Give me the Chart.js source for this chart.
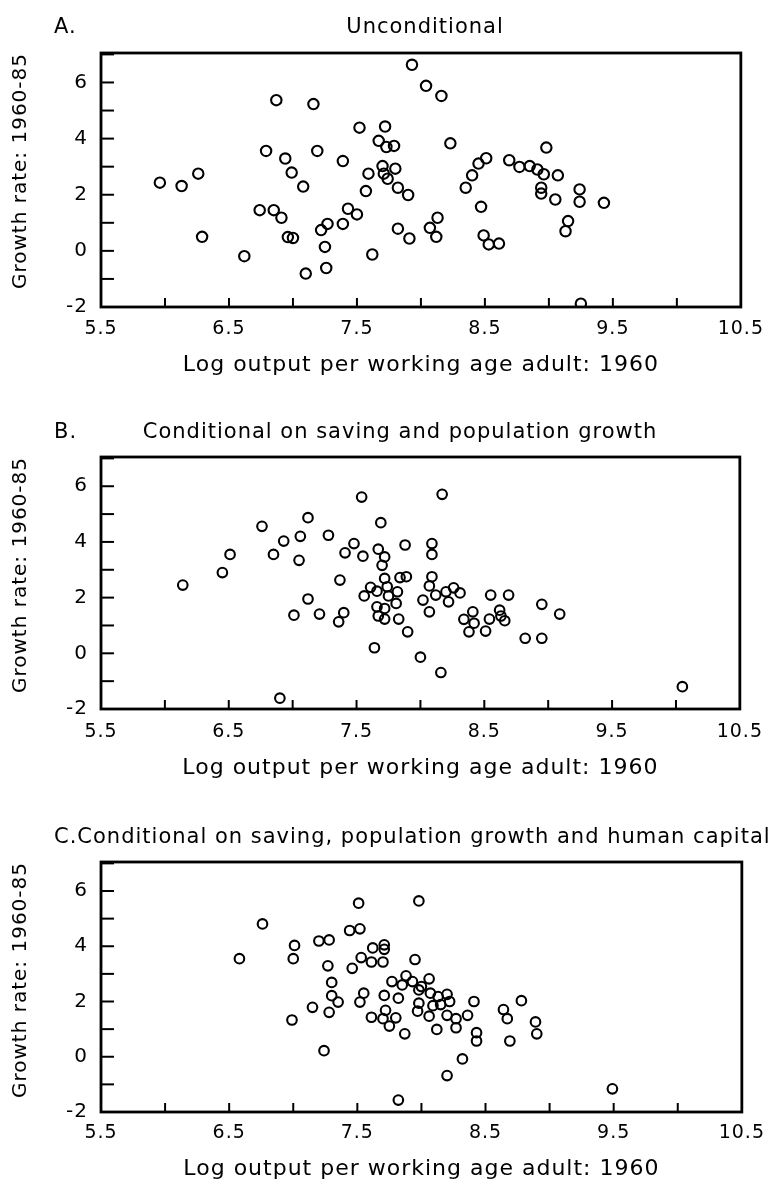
<!DOCTYPE html>
<html>
<head>
<meta charset="utf-8">
<script src="https://cdn.jsdelivr.net/npm/chart.js@4.4.1/dist/chart.umd.min.js"></script>
<style>
  body { margin: 0; background: #fff; width: 773px; height: 1185px; position: relative; overflow: hidden; }
  canvas { position: absolute; left: 0; }
</style>
</head>
<body>
<canvas id="chart-a" width="773" height="395" style="top:0px"></canvas>
<canvas id="chart-b" width="773" height="405" style="top:395px"></canvas>
<canvas id="chart-c" width="773" height="385" style="top:800px"></canvas>
<script>
// Growth vs initial income, three panels (unconditional / conditional)

// Panel A: unconditional
const logOutputA = [
  7.93, 8.04, 8.16, 6.87, 7.16, 7.52, 7.72, 7.67, 7.73, 7.79,
  6.79, 7.19, 6.94, 7.39, 6.26, 5.96, 6.13, 6.99, 7.08, 7.59,
  7.57, 7.70, 7.71, 7.80, 7.74, 7.82, 7.90, 6.74, 6.85, 6.91,
  7.43, 7.50, 7.39, 7.27, 7.22, 6.29, 6.96, 7.00, 7.82, 7.91,
  7.25, 6.62, 7.62, 7.26, 7.10, 8.23, 8.98, 8.51, 8.45, 8.40,
  8.35, 8.69, 8.77, 8.85, 8.91, 8.96, 9.07, 8.94, 8.94, 9.05,
  9.24, 9.24, 9.43, 8.47, 8.13, 8.07, 8.12, 8.49, 8.53, 8.61,
  9.15, 9.13, 9.25
];
const growthA = [
  6.63, 5.88, 5.52, 5.37, 5.23, 4.39, 4.43, 3.92, 3.70, 3.74,
  3.56, 3.56, 3.29, 3.20, 2.75, 2.43, 2.31, 2.79, 2.29, 2.75,
  2.13, 3.02, 2.75, 2.93, 2.57, 2.25, 1.99, 1.45, 1.45, 1.18,
  1.50, 1.30, 0.96, 0.96, 0.74, 0.50, 0.49, 0.46, 0.79, 0.44,
  0.14, -0.19, -0.13, -0.61, -0.81, 3.83, 3.68, 3.30, 3.11, 2.69,
  2.25, 3.23, 2.99, 3.02, 2.90, 2.73, 2.69, 2.25, 2.04, 1.83,
  2.19, 1.75, 1.71, 1.57, 1.18, 0.82, 0.50, 0.55, 0.23, 0.26,
  1.06, 0.70, -1.88
];

// Panel B: conditional on saving and population growth
const logOutputB = [
  7.54, 7.12, 7.69, 6.76, 7.28, 6.93, 7.06, 7.48, 7.88, 6.51,
  6.85, 7.41, 7.55, 7.67, 7.72, 7.70, 7.05, 6.45, 6.14, 7.37,
  7.72, 7.84, 7.89, 7.61, 7.74, 7.56, 7.66, 7.75, 7.82, 7.81,
  7.66, 7.72, 7.67, 7.72, 7.83, 7.12, 7.01, 7.21, 7.40, 7.36,
  7.90, 7.64, 8.00, 8.17, 8.09, 8.09, 8.09, 8.07, 8.02, 8.12,
  8.20, 8.26, 8.31, 8.22, 8.07, 8.55, 8.69, 8.95, 9.09, 8.34,
  8.41, 8.42, 8.38, 8.51, 8.54, 8.62, 8.63, 8.66, 8.82, 8.95,
  8.16, 6.90, 10.05
];
const growthB = [
  5.61, 4.87, 4.69, 4.56, 4.24, 4.03, 4.20, 3.94, 3.89, 3.55,
  3.55, 3.61, 3.49, 3.74, 3.46, 3.16, 3.34, 2.90, 2.45, 2.63,
  2.69, 2.72, 2.75, 2.37, 2.39, 2.06, 2.23, 2.06, 2.21, 1.79,
  1.67, 1.61, 1.34, 1.23, 1.23, 1.95, 1.37, 1.41, 1.46, 1.13,
  0.77, 0.20, -0.14, 5.71, 3.94, 3.55, 2.75, 2.42, 1.91, 2.09,
  2.21, 2.35, 2.17, 1.85, 1.49, 2.09, 2.09, 1.76, 1.41, 1.22,
  1.49, 1.08, 0.77, 0.80, 1.23, 1.55, 1.34, 1.17, 0.54, 0.54,
  -0.69, -1.61, -1.20
];

// Panel C: conditional on saving, population growth and human capital
const logOutputC = [
  7.51, 7.98, 6.76, 7.44, 7.52, 7.20, 7.28, 7.01, 7.00, 6.58,
  7.62, 7.71, 7.71, 7.53, 7.61, 7.70, 7.95, 7.27, 7.46, 7.30,
  7.30, 7.35, 7.28, 7.15, 6.99, 7.24, 7.55, 7.52, 7.77, 7.88,
  7.85, 7.93, 7.71, 7.82, 7.98, 7.98, 7.97, 7.72, 7.61, 7.70,
  7.80, 7.75, 7.87, 8.06, 8.00, 8.07, 8.13, 8.20, 8.22, 8.09,
  8.15, 8.06, 8.20, 8.27, 8.36, 8.27, 8.12, 8.41, 8.43, 8.43,
  8.64, 8.67, 8.78, 8.89, 8.90, 8.69, 8.32, 8.20, 7.82, 9.49
];
const growthC = [
  5.56, 5.64, 4.81, 4.57, 4.63, 4.19, 4.23, 4.03, 3.55, 3.55,
  3.94, 4.05, 3.89, 3.59, 3.43, 3.43, 3.52, 3.29, 3.20, 2.69,
  2.21, 1.98, 1.61, 1.79, 1.33, 0.22, 2.30, 1.98, 2.72, 2.93,
  2.60, 2.72, 2.22, 2.12, 2.42, 1.94, 1.65, 1.68, 1.43, 1.38,
  1.41, 1.11, 0.83, 2.82, 2.54, 2.30, 2.18, 2.26, 2.00, 1.85,
  1.89, 1.47, 1.50, 1.38, 1.50, 1.05, 0.99, 2.00, 0.87, 0.57,
  1.71, 1.38, 2.03, 1.26, 0.83, 0.57, -0.08, -0.68, -1.57, -1.16
];

const xMin = 5.5, xMax = 10.5, xStep = 0.5;
const yMin = -2, yMax = 7.05, yStep = 1;
const xTitle = "Log output per working age adult: 1960";
const yTitle = "Growth rate: 1960-85";

const fontFamily = '"DejaVu Sans", sans-serif';
Chart.defaults.font.family = fontFamily;
Chart.defaults.color = "#000";

// box round the plot, inward tick marks, panel headings
const frame = {
  id: "frame",
  beforeDraw(chart) {
    chart.ctx.letterSpacing = "1px";
  },
  afterDraw(chart, args, opts) {
    const { ctx, chartArea: a, scales: { x, y } } = chart;
    ctx.save();
    ctx.strokeStyle = "#000";
    ctx.lineWidth = 2;
    x.ticks.forEach(t => {
      if (t.value <= x.min || t.value >= x.max) return;
      const px = x.getPixelForValue(t.value);
      ctx.beginPath();
      ctx.moveTo(px, a.bottom);
      ctx.lineTo(px, a.bottom - 9);
      ctx.stroke();
    });
    y.ticks.forEach(t => {
      if (t.value <= y.min || t.value >= y.max) return;
      const py = y.getPixelForValue(t.value);
      ctx.beginPath();
      ctx.moveTo(a.left, py);
      ctx.lineTo(a.left + 13, py);
      ctx.stroke();
    });
    ctx.lineWidth = 2.8;
    ctx.strokeRect(a.left, a.top, a.right - a.left, a.bottom - a.top);

    ctx.fillStyle = "#000";
    ctx.textBaseline = "middle";
    ctx.font = "21px " + fontFamily;
    (opts.headings || []).forEach(h => {
      ctx.textAlign = h.align;
      ctx.fillText(h.text, h.x, h.y);
    });
    ctx.restore();
  }
};

function createPanel(id, xs, ys, layout) {
  const points = xs.map((x, i) => ({ x, y: ys[i] }));
  const canvas = document.getElementById(id);
  return new Chart(canvas, {
    type: "scatter",
    data: {
      datasets: [{
        data: points,
        pointStyle: "circle",
        pointRadius: layout.radius,
        pointBorderWidth: 2.1,
        borderColor: "#000",
        backgroundColor: "rgba(0,0,0,0)",
      }]
    },
    options: {
      responsive: false,
      animation: false,
      layout: {
        padding: { top: layout.areaTop, right: 23, left: 0, bottom: 0 }
      },
      scales: {
        x: {
          type: "linear",
          min: xMin,
          max: xMax,
          afterFit: s => { s.height = canvas.height - layout.areaBottom; },
          grid: { display: false, drawTicks: false },
          border: { display: false },
          ticks: {
            stepSize: xStep,
            autoSkip: false,
            maxRotation: 0,
            padding: layout.xLabelPad,
            font: { size: 19 },
            callback: v => (Math.round(v * 2) % 2 === 1 ? v.toFixed(1) : ""),
          },
          title: {
            display: true,
            text: xTitle,
            font: { size: 22 },
            padding: { top: 0, bottom: layout.xTitlePad },
          }
        },
        y: {
          type: "linear",
          min: yMin,
          max: yMax,
          afterFit: s => { s.width = 101; },
          grid: { display: false, drawTicks: false },
          border: { display: false },
          ticks: {
            stepSize: yStep,
            includeBounds: false,
            autoSkip: false,
            padding: 13,
            font: { size: 20 },
            callback: v => (v % 2 === 0 ? String(v) : ""),
          },
          title: {
            display: true,
            text: yTitle,
            align: "end",
            font: { size: 20 },
            padding: { top: 9, bottom: 0 },
          }
        }
      },
      plugins: {
        legend: { display: false },
        tooltip: { enabled: false },
        frame: { headings: layout.headings },
      }
    },
    plugins: [frame]
  });
}

const chartA = createPanel("chart-a", logOutputA, growthA, {
  areaTop: 53, areaBottom: 307, xLabelPad: 11, xTitlePad: 17, radius: 5.2,
  headings: [
    { text: "A.", x: 54, y: 28, align: "left" },
    { text: "Unconditional", x: 425, y: 28, align: "center" },
  ]
});
const chartB = createPanel("chart-b", logOutputB, growthB, {
  areaTop: 62, areaBottom: 314, xLabelPad: 12, xTitlePad: 19, radius: 4.8,
  headings: [
    { text: "B.", x: 54, y: 38, align: "left" },
    { text: "Conditional on saving and population growth", x: 400, y: 38, align: "center" },
  ]
});
const chartC = createPanel("chart-c", logOutputC, growthC, {
  areaTop: 62, areaBottom: 312, xLabelPad: 10, xTitlePad: 3, radius: 4.8,
  headings: [
    { text: "C.Conditional on saving, population growth and human capital", x: 54, y: 38, align: "left" },
  ]
});
</script>
</body>
</html>
